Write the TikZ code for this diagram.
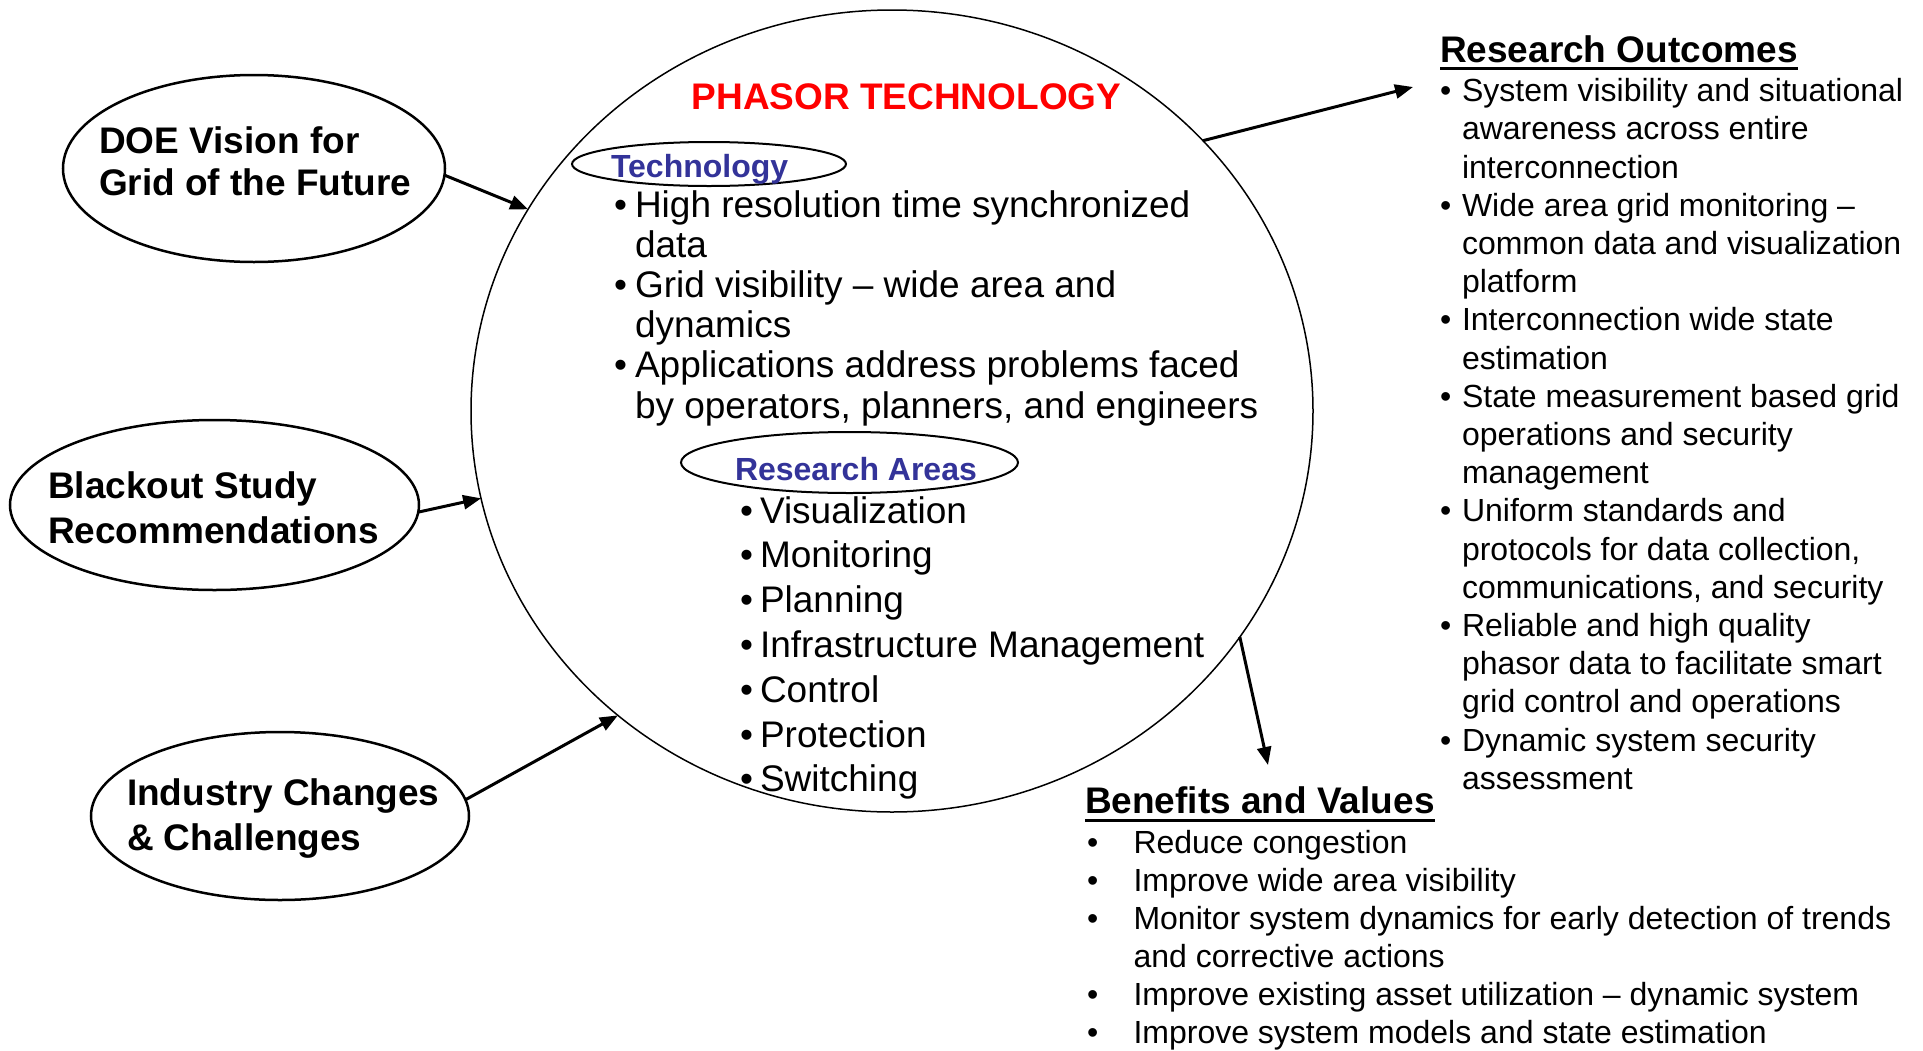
\documentclass[tikz,border=0pt]{standalone}
\usepackage{fontspec}
\setmainfont{Liberation Sans}
\usetikzlibrary{arrows.meta,shapes.geometric}
\definecolor{phasorred}{RGB}{255,0,0}
\definecolor{areablue}{RGB}{51,51,153}
\begin{document}
\begin{tikzpicture}[x=1pt,y=-1pt,
  every node/.style={inner sep=0pt,outer sep=0pt},
  bigtxt/.style={anchor=base west,font=\fontsize{37}{44}\selectfont},
  smalltxt/.style={anchor=base west,font=\fontsize{32}{38}\selectfont},
  boldlbl/.style={anchor=base west,font=\fontsize{37}{44}\selectfont\bfseries},
  subhead/.style={anchor=base west,font=\fontsize{32}{38}\selectfont\bfseries,text=areablue},
  oval/.style={draw,ellipse,line width=2.5pt},
  conn/.style={line width=3pt,-{Triangle[length=18pt,width=14pt]}},
]
\useasboundingbox (0,0) rectangle (1923,1050);
\fill[white] (0,0) rectangle (1923,1050);

% central ellipse
\node[draw,ellipse,line width=1.5pt,minimum width=842pt,minimum height=802pt] (core) at (892,411) {};
% input ovals
\node[oval,minimum width=382pt,minimum height=187pt] (doe) at (254,168.5) {};
\node[oval,minimum width=409pt,minimum height=170pt] (bo) at (214.5,505) {};
\node[oval,minimum width=378pt,minimum height=168pt] (ind) at (280,816) {};
% inner ovals
\node[draw,ellipse,line width=2pt,minimum width=274pt,minimum height=44pt] (techoval) at (709,164) {};
\node[draw,ellipse,line width=2pt,minimum width=337pt,minimum height=61pt] (areaoval) at (849.5,462.5) {};

% oval labels
\node[boldlbl] (doe1) at (99,153) {DOE Vision for};
\node[boldlbl] (doe2) at (99,195) {Grid of the Future};
\node[boldlbl] (bo1) at (48,498) {Blackout Study};
\node[boldlbl] (bo2) at (48,543) {Recommendations};
\node[boldlbl] (ind1) at (127,805) {Industry Changes};
\node[boldlbl] (ind2) at (127,850) {\& Challenges};

% connectors
\draw[conn] (doe.-2) -- (core.151);
\draw[conn] (bo.-2) -- (core.192);
\draw[conn] (ind.5) -- (core.228);
\coordinate (roTip) at (1413,87);
\coordinate (bvTip) at (1268,765);
\draw[conn] (core.41) -- (roTip);
\draw[conn] (core.327) -- (bvTip);

% central texts
\node[anchor=base,font=\fontsize{37}{44}\selectfont\bfseries,text=phasorred] (title) at (906.5,109) {PHASOR TECHNOLOGY};
\node[subhead] (techH) at (611,177) {Technology};
\foreach \txt [count=\i] in {High resolution time synchronized, data, Grid visibility – wide area and, dynamics, Applications address problems faced, {by operators, planners, and engineers}}
  \node[bigtxt] (tech\i) at (635,{217+40.2*(\i-1)}) {\txt};
\foreach \k in {0,2,4}
  \node[bigtxt] (techb\k) at (614,{217+40.2*\k}) {•};

\node[subhead] (areaH) at (735,480) {Research Areas};
\foreach \txt [count=\i] in {Visualization, Monitoring, Planning, Infrastructure Management, Control, Protection, Switching}{
  \node[bigtxt] (area\i) at (760,{523+44.8*(\i-1)}) {\txt};
  \node[bigtxt] (areab\i) at (740,{523+44.8*(\i-1)}) {•};
}

% research outcomes
\node[boldlbl] (roH) at (1440,62) {Research Outcomes};
\draw[line width=3pt] ([yshift=-6pt]roH.base west) -- ([yshift=-6pt]roH.base east);
\foreach \txt [count=\i] in {System visibility and situational, awareness across entire, interconnection, Wide area grid monitoring –, common data and visualization, platform, Interconnection wide state, estimation, State measurement based grid, operations and security, management, Uniform standards and, {protocols for data collection,}, {communications, and security}, Reliable and high quality, phasor data to facilitate smart, grid control and operations, Dynamic system security, assessment}
  \node[smalltxt] (ro\i) at (1462,{101.7+38.2*(\i-1)}) {\txt};
\foreach \k in {0,3,6,8,11,14,17}
  \node[smalltxt] (rob\k) at (1440,{101.7+38.2*\k}) {•};

% benefits and values
\node[boldlbl] (bvH) at (1085,813) {Benefits and Values};
\draw[line width=3pt] ([yshift=-7pt]bvH.base west) -- ([yshift=-7pt]bvH.base east);
\foreach \txt [count=\i] in {Reduce congestion, Improve wide area visibility, Monitor system dynamics for early detection of trends, and corrective actions, Improve existing asset utilization – dynamic system, Improve system models and state estimation}
  \node[smalltxt] (bv\i) at (1133.5,{853+38*(\i-1)}) {\txt};
\foreach \k in {0,1,2,4,5}
  \node[smalltxt] (bvb\k) at (1087,{853+38*\k}) {•};
\end{tikzpicture}
\end{document}
